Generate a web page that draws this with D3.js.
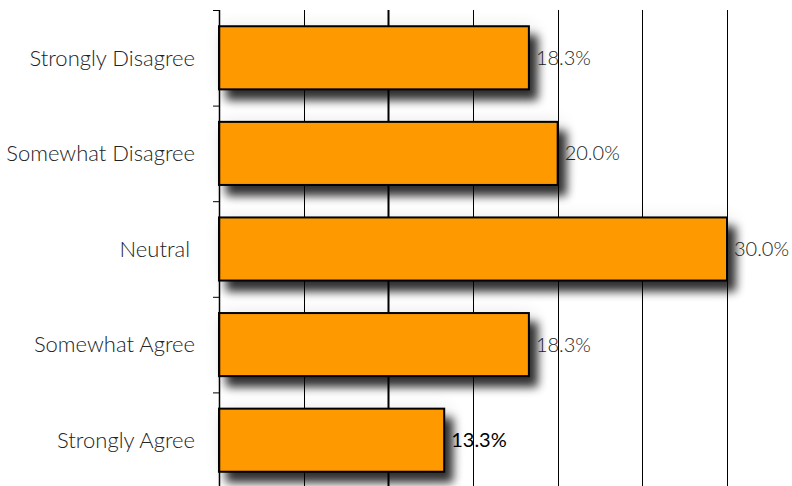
<!DOCTYPE html>
<meta charset="utf-8">
<script src="https://cdn.jsdelivr.net/npm/d3@7"></script>
<style>
  body { margin: 0; background: #fff; }
  text { font-family: Lato, "Open Sans", sans-serif; }
</style>
<body>
<script>

// the data
var categories = ["Strongly Disagree", "Somewhat Disagree", "Neutral", "Somewhat Agree", "Strongly Agree"];
var values = [18.3, 20.0, 30.0, 18.3, 13.3];
var gridTicks = [5, 10, 15, 20, 25, 30];

var width = 792, height = 486;
var margin = {top: 10, right: 65, bottom: -2, left: 219};

var svg = d3.select("body").append("svg")
    .attr("width", width)
    .attr("height", height);

// drop shadow for the bars: a tight dark one and a wide faint halo
var defs = svg.append("defs");
var f = defs.append("filter").attr("id", "shadow")
    .attr("x", "-20%").attr("y", "-60%").attr("width", "150%").attr("height", "220%");
f.append("feGaussianBlur").attr("in", "SourceAlpha").attr("stdDeviation", 5).attr("result", "blur");
f.append("feOffset").attr("in", "blur").attr("dx", 8).attr("dy", 10).attr("result", "off");
f.append("feComponentTransfer").attr("in", "off").attr("result", "soft")
    .append("feFuncA").attr("type", "linear").attr("slope", 0.8);
f.append("feGaussianBlur").attr("in", "SourceAlpha").attr("stdDeviation", 9).attr("result", "blur2");
f.append("feOffset").attr("in", "blur2").attr("dx", 4).attr("dy", 2).attr("result", "off2");
f.append("feComponentTransfer").attr("in", "off2").attr("result", "halo")
    .append("feFuncA").attr("type", "linear").attr("slope", 0.12);
var merge = f.append("feMerge");
merge.append("feMergeNode").attr("in", "halo");
merge.append("feMergeNode").attr("in", "soft");
merge.append("feMergeNode").attr("in", "SourceGraphic");

var x = d3.scaleLinear().domain([0, 30]).range([margin.left, 727]);
var y = d3.scaleBand().domain(categories)
    .range([margin.top, height - margin.bottom])
    .paddingInner(0.34).paddingOuter(0.17);

var plotTop = margin.top, plotBottom = height - margin.bottom;

// vertical gridlines
svg.append("g").selectAll("line").data(gridTicks).enter().append("line")
    .attr("x1", function(d) { return Math.round(x(d)) + 0.5; })
    .attr("x2", function(d) { return Math.round(x(d)) + 0.5; })
    .attr("y1", plotTop).attr("y2", plotBottom)
    .attr("stroke", "#000")
    .attr("stroke-width", function(d) { return d == 10 ? 2 : 1; });

// bars
svg.append("g").selectAll("rect").data(values).enter().append("rect")
    .attr("x", x(0))
    .attr("y", function(d, i) { return y(categories[i]); })
    .attr("width", function(d) { return x(d) - x(0); })
    .attr("height", y.bandwidth())
    .attr("fill", "#FF9900")
    .attr("stroke", "#000")
    .attr("stroke-width", 2)
    .attr("filter", "url(#shadow)");

// left axis with ticks at band boundaries
var axis = svg.append("g");
axis.append("line")
    .attr("x1", x(0) + 0.5).attr("x2", x(0) + 0.5)
    .attr("y1", plotTop).attr("y2", plotBottom)
    .attr("stroke", "#000").attr("stroke-width", 1.5);
var step = y.step();
axis.selectAll(".tick").data(d3.range(categories.length + 1)).enter().append("line")
    .attr("class", "tick")
    .attr("x1", x(0) - 6).attr("x2", x(0))
    .attr("y1", function(i) { return plotTop + i * step + 0.5; })
    .attr("y2", function(i) { return plotTop + i * step + 0.5; })
    .attr("stroke", "#000").attr("stroke-width", 1);

// category labels
svg.append("g").selectAll("text").data(categories).enter().append("text")
    .attr("x", function(d) { return d == "Neutral" ? 190 : 195; })
    .attr("y", function(d) { return y(d) + y.bandwidth() / 2; })
    .attr("dy", "0.35em")
    .attr("text-anchor", "end")
    .attr("font-size", 22)
    .attr("font-weight", 300)
    .attr("fill", "#222")
    .text(function(d) { return d; });

// value labels
svg.append("g").selectAll("text").data(values).enter().append("text")
    .attr("x", function(d) { return x(d) + 7; })
    .attr("y", function(d, i) { return y(categories[i]) + y.bandwidth() / 2; })
    .attr("dy", "0.35em")
    .attr("font-size", 20)
    .attr("font-weight", function(d, i) { return i == 4 ? 400 : 300; })
    .attr("fill", function(d, i) { return i == 4 ? "#000" : "#222"; })
    .text(function(d) { return d.toFixed(1) + "%"; });

</script>
</body>
